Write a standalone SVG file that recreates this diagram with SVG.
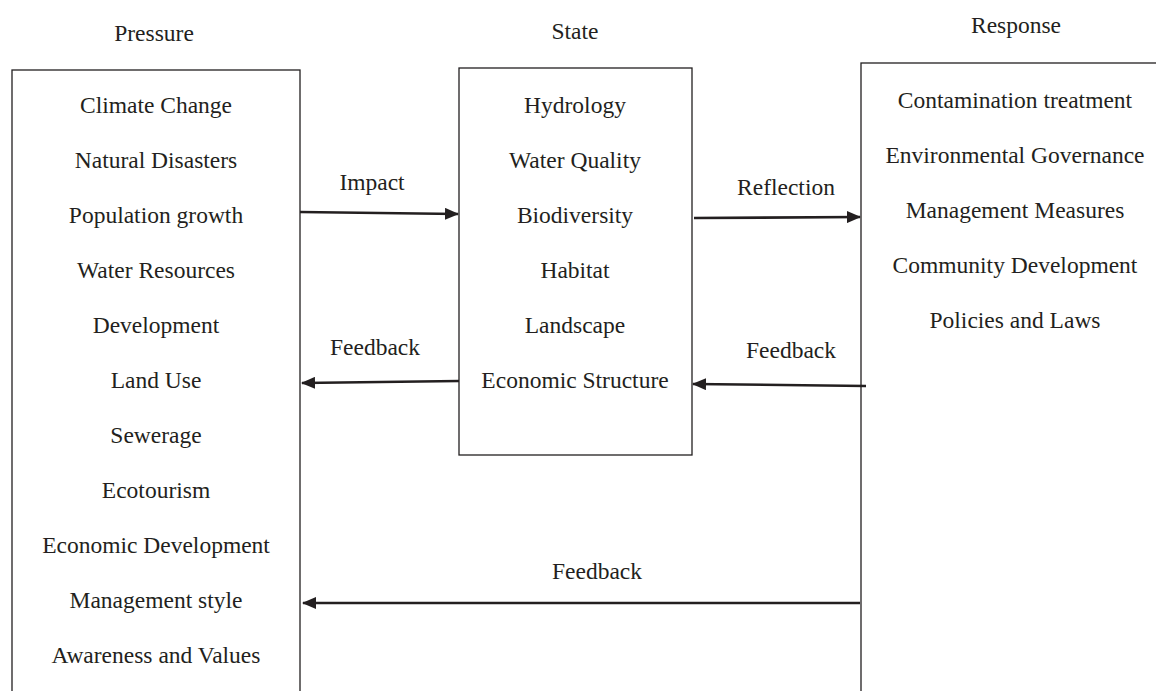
<svg xmlns="http://www.w3.org/2000/svg" width="1156" height="691" viewBox="0 0 1156 691">
<defs>
<style>
.t{font-size:23.5px;fill:#231f20;text-anchor:middle}
.box{fill:#fff;stroke:#231f20;stroke-width:1.3}
.arr{stroke:#231f20;stroke-width:2.6;fill:none;marker-end:url(#ah)}
</style>
<marker id="ah" viewBox="0 0 14 12" refX="13" refY="6" markerWidth="14" markerHeight="12" markerUnits="userSpaceOnUse" orient="auto">
<path d="M0,0 L14,6 L0,12 Z" fill="#231f20"/>
</marker>
</defs>
<rect width="1156" height="691" fill="#fff"/>
<g font-family="Liberation Serif, serif" class="t">
<g id="pressure">
<text x="154" y="41">Pressure</text>
<rect class="box" x="12" y="70" width="288" height="640"/>
<text x="156" y="113">Climate Change</text>
<text x="156" y="168">Natural Disasters</text>
<text x="156" y="223">Population growth</text>
<text x="156" y="278">Water Resources</text>
<text x="156" y="333">Development</text>
<text x="156" y="388">Land Use</text>
<text x="156" y="443">Sewerage</text>
<text x="156" y="498">Ecotourism</text>
<text x="156" y="553">Economic Development</text>
<text x="156" y="608">Management style</text>
<text x="156" y="663">Awareness and Values</text>
</g>
<g id="state">
<text x="575" y="39">State</text>
<rect class="box" x="459" y="68" width="233" height="387"/>
<text x="575" y="113">Hydrology</text>
<text x="575" y="168">Water Quality</text>
<text x="575" y="223">Biodiversity</text>
<text x="575" y="278">Habitat</text>
<text x="575" y="333">Landscape</text>
<text x="575" y="388">Economic Structure</text>
</g>
<g id="response">
<text x="1016" y="33">Response</text>
<rect class="box" x="861" y="63" width="320" height="660"/>
<text x="1015" y="108">Contamination treatment</text>
<text x="1015" y="163">Environmental Governance</text>
<text x="1015" y="218">Management Measures</text>
<text x="1015" y="273">Community Development</text>
<text x="1015" y="328">Policies and Laws</text>
</g>
<g id="connectors">
<line class="arr" x1="300" y1="212" x2="458" y2="214"/>
<text x="372" y="190">Impact</text>
<line class="arr" x1="694" y1="218" x2="860" y2="217"/>
<text x="786" y="195">Reflection</text>
<line class="arr" x1="459" y1="381" x2="302" y2="383"/>
<text x="375" y="355">Feedback</text>
<line class="arr" x1="866" y1="386" x2="693" y2="384"/>
<text x="791" y="358">Feedback</text>
<line class="arr" x1="860" y1="603" x2="303" y2="603"/>
<text x="597" y="579">Feedback</text>
</g>
</g>
</svg>
